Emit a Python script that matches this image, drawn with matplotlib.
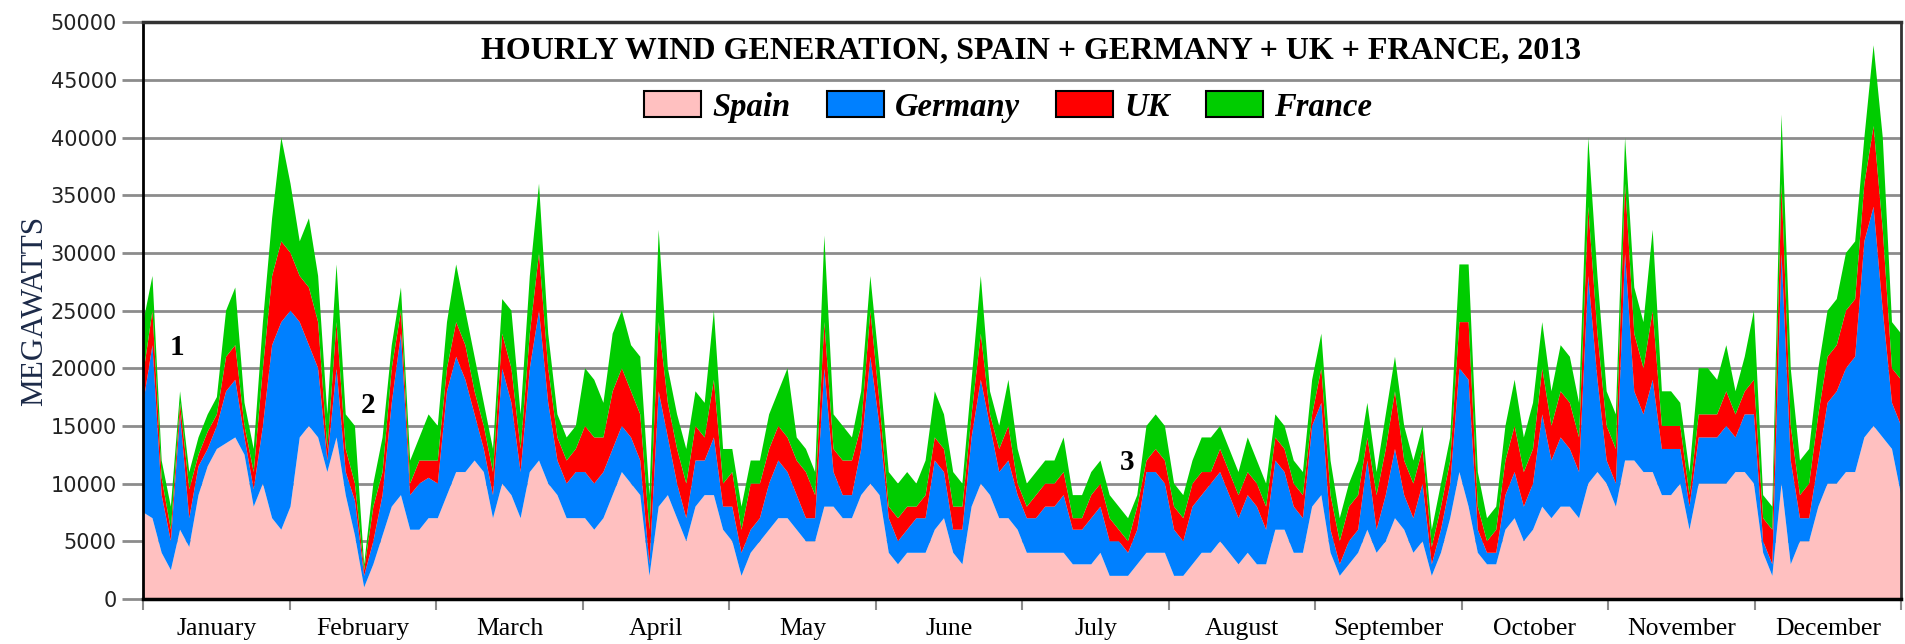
import numpy as np
import matplotlib
matplotlib.use('Agg')
import matplotlib.pyplot as plt
from matplotlib.patches import Patch

# hourly wind output at 16 points per month (thousand MW)
spain = [
    7.5, 7, 4, 2.5, 6, 4.5, 9, 11.5, 13, 13.5, 14, 12.5, 8, 10, 7, 6,
    8, 14, 15, 14, 11, 14, 9, 5.5, 1, 3, 5.5, 8, 9, 6, 6, 7,
    7, 9, 11, 11, 12, 11, 7, 10, 9, 7, 11, 12, 10, 9, 7, 7,
    7, 6, 7, 9, 11, 10, 9, 2, 8, 9, 7, 5, 8, 9, 9, 6,
    5, 2, 4, 5, 6, 7, 7, 6, 5, 5, 8, 8, 7, 7, 9, 10,
    9, 4, 3, 4, 4, 4, 6, 7, 4, 3, 8, 10, 9, 7, 7, 6,
    4, 4, 4, 4, 4, 3, 3, 3, 4, 2, 2, 2, 3, 4, 4, 4,
    2, 2, 3, 4, 4, 5, 4, 3, 4, 3, 3, 6, 6, 4, 4, 8,
    9, 4, 2, 3, 4, 6, 4, 5, 7, 6, 4, 5, 2, 4, 7, 11,
    8, 4, 3, 3, 6, 7, 5, 6, 8, 7, 8, 8, 7, 10, 11, 10,
    8, 12, 12, 11, 11, 9, 9, 10, 6, 10, 10, 10, 10, 11, 11, 10,
    4, 2, 10, 3, 5, 5, 8, 10, 10, 11, 11, 14, 15, 14, 13, 9,
]
germany = [
    9.5, 15, 5, 2.5, 10, 2.5, 2.5, 1.5, 2, 4.5, 5, 1.5, 1.5, 5, 15, 18,
    17, 10, 7, 6, 1, 6, 2, 3, 1, 2, 3.5, 9, 14, 3, 4, 3.5,
    3, 9, 10, 8, 4, 2, 2, 10, 8, 4, 9, 13, 7, 3, 3, 4,
    4, 4, 4, 4, 4, 4, 3, 1, 10, 5, 3, 2, 4, 3, 5, 2,
    3, 2, 2, 2, 4, 5, 4, 3, 2, 2, 12, 3, 2, 2, 4, 11,
    6, 3, 2, 2, 3, 3, 6, 4, 2, 3, 6, 9, 6, 4, 5, 3,
    3, 3, 4, 4, 5, 3, 3, 4, 4, 3, 3, 2, 3, 7, 7, 6,
    4, 3, 5, 5, 6, 6, 5, 4, 5, 5, 3, 6, 5, 4, 3, 7,
    8, 2, 1, 2, 2, 6, 2, 4, 6, 3, 3, 5, 1, 2, 3, 9,
    11, 2, 1, 1, 3, 4, 3, 4, 8, 5, 6, 5, 4, 18, 8, 2,
    2, 18, 6, 5, 8, 4, 4, 3, 2, 4, 4, 4, 5, 3, 5, 6,
    1, 1, 20, 9, 2, 2, 4, 7, 8, 9, 10, 17, 19, 11, 4, 6,
]
uk = [
    2.5, 3, 1.5, 1, 1, 2.5, 1, 1.5, 1, 3, 3, 1, 1.5, 5, 6, 7,
    5, 4, 5, 4, 1, 4, 2, 1.5, 0.5, 3, 2, 3, 2, 1, 2, 1.5,
    2, 2, 3, 3, 2, 2, 2, 3, 3, 2, 3, 5, 3, 2, 2, 2,
    4, 4, 3, 5, 5, 4, 4, 3, 6, 3, 3, 3, 3, 2, 5, 2,
    3, 2, 4, 3, 3, 3, 3, 3, 4, 2, 4, 2, 3, 3, 2, 4,
    2, 1, 2, 2, 1, 2, 2, 2, 2, 2, 2, 4, 1, 2, 3, 1,
    1, 2, 2, 2, 2, 1, 1, 2, 2, 2, 1, 1, 2, 1, 2, 2,
    2, 2, 2, 2, 1, 2, 2, 2, 2, 2, 2, 2, 2, 2, 2, 1,
    3, 3, 2, 3, 3, 2, 3, 4, 5, 3, 3, 3, 1.5, 2, 2, 4,
    5, 2, 1, 2, 3, 4, 3, 3, 4, 3, 4, 4, 3, 6, 4, 3,
    3, 6, 5, 4, 6, 2, 2, 2, 1, 2, 2, 2, 3, 2, 2, 3,
    2, 3, 6, 3, 2, 3, 4, 4, 4, 5, 5, 5, 7, 7, 3, 4,
]
france = [
    4.5, 3, 1.5, 2, 1, 1.5, 1.5, 1.5, 1.5, 4, 5, 2, 2, 4, 5, 9,
    6, 3, 6, 4, 3, 5, 3, 5, 0.5, 2, 3, 2, 2, 2, 2, 4,
    3, 4, 5, 3, 3, 2, 2, 3, 5, 3, 5, 6, 3, 2, 2, 2,
    5, 5, 3, 5, 5, 4, 5, 3, 8, 3, 3, 3, 3, 3, 6, 3,
    2, 2, 2, 2, 3, 3, 6, 2, 2, 2, 7.5, 3, 3, 2, 3, 3,
    3, 3, 3, 3, 2, 3, 4, 3, 3, 2, 3, 5, 2, 2, 4, 3,
    2, 2, 2, 2, 3, 2, 2, 2, 2, 2, 2, 2, 1, 3, 3, 3,
    2, 2, 2, 3, 3, 2, 2, 2, 3, 2, 2, 2, 2, 2, 2, 3,
    3, 3, 2, 2, 3, 3, 2, 3, 3, 3, 2, 2, 1.5, 2, 2, 5,
    5, 3, 2, 2, 3, 4, 3, 4, 4, 3, 4, 4, 3, 6, 5, 3,
    3, 4, 4, 4, 7, 3, 3, 2, 2, 4, 4, 3, 4, 2, 3, 6,
    2, 2, 6, 5, 3, 3, 4, 4, 4, 5, 5, 4, 7, 8, 4, 4,
]
months = ['January', 'February', 'March', 'April', 'May', 'June', 'July',
          'August', 'September', 'October', 'November', 'December']
names = ['Spain', 'Germany', 'UK', 'France']
colors = ['#FFC0C0', '#0080FF', '#FF0000', '#00CC00']

hours_in_year = 8760
hours = np.linspace(0, hours_in_year, len(spain))
series = [np.array(s) * 1000 for s in (spain, germany, uk, france)]

serif = ['Liberation Serif', 'DejaVu Serif']

fig = plt.figure(figsize=(19.05, 6.44), dpi=100)
ax = fig.add_axes([0.0752, 0.070, 0.9228, 0.8955])

ax.stackplot(hours, *series, colors=colors, linewidth=0, zorder=2)

ax.set_xlim(0, hours_in_year)
ax.set_ylim(0, 50000)
ax.set_yticks(np.arange(0, 50001, 5000))
ax.grid(axis='y', color='#8c8c8c', linewidth=2, zorder=1)
ax.tick_params(axis='y', length=15, width=2, color='#8c8c8c', labelsize=15,
               pad=4, labelcolor='#222222')

step = hours_in_year / 12
ax.set_xticks(np.arange(13) * step)
ax.set_xticklabels([])
ax.set_xticks((np.arange(12) + 0.5) * step, minor=True)
ax.set_xticklabels(months, minor=True, fontfamily=serif, fontsize=18.5)
ax.tick_params(axis='x', which='major', length=8, width=1.5, color='#8c8c8c')
ax.tick_params(axis='x', which='minor', length=0, pad=14)

ax.spines['left'].set_linewidth(2)
ax.spines['bottom'].set_linewidth(2.5)
ax.spines['top'].set_linewidth(2.5)
ax.spines['top'].set_color('#333333')
ax.spines['right'].set_linewidth(2)
ax.spines['right'].set_color('#333333')

ax.set_ylabel('MEGAWATTS', fontfamily=serif, fontsize=22.5, color='#1c2a48',
              labelpad=1)

ax.text(0.505, 0.950, 'HOURLY WIND GENERATION, SPAIN + GERMANY + UK + FRANCE, 2013',
        transform=ax.transAxes, ha='center', va='center', fontfamily=serif,
        fontsize=23, fontweight='bold', zorder=5)

handles = [Patch(facecolor=c, edgecolor='black', linewidth=1.5) for c in colors]
leg = ax.legend(handles, names, loc='center', bbox_to_anchor=(0.492, 0.853),
                ncol=4, frameon=False, handlelength=1.75, handleheight=0.85,
                handletextpad=0.35, columnspacing=1.1,
                prop={'family': serif, 'size': 23.5, 'weight': 'bold', 'style': 'italic'})

# numbered markers in the chart
for label, hx, mw in [('1', 168, 21800), ('2', 1120, 16800), ('3', 4903, 11800)]:
    ax.text(hx, mw, label, ha='center', va='center', fontfamily=serif,
            fontsize=21, fontweight='bold', zorder=5)

fig.savefig('out.png', dpi=100)
